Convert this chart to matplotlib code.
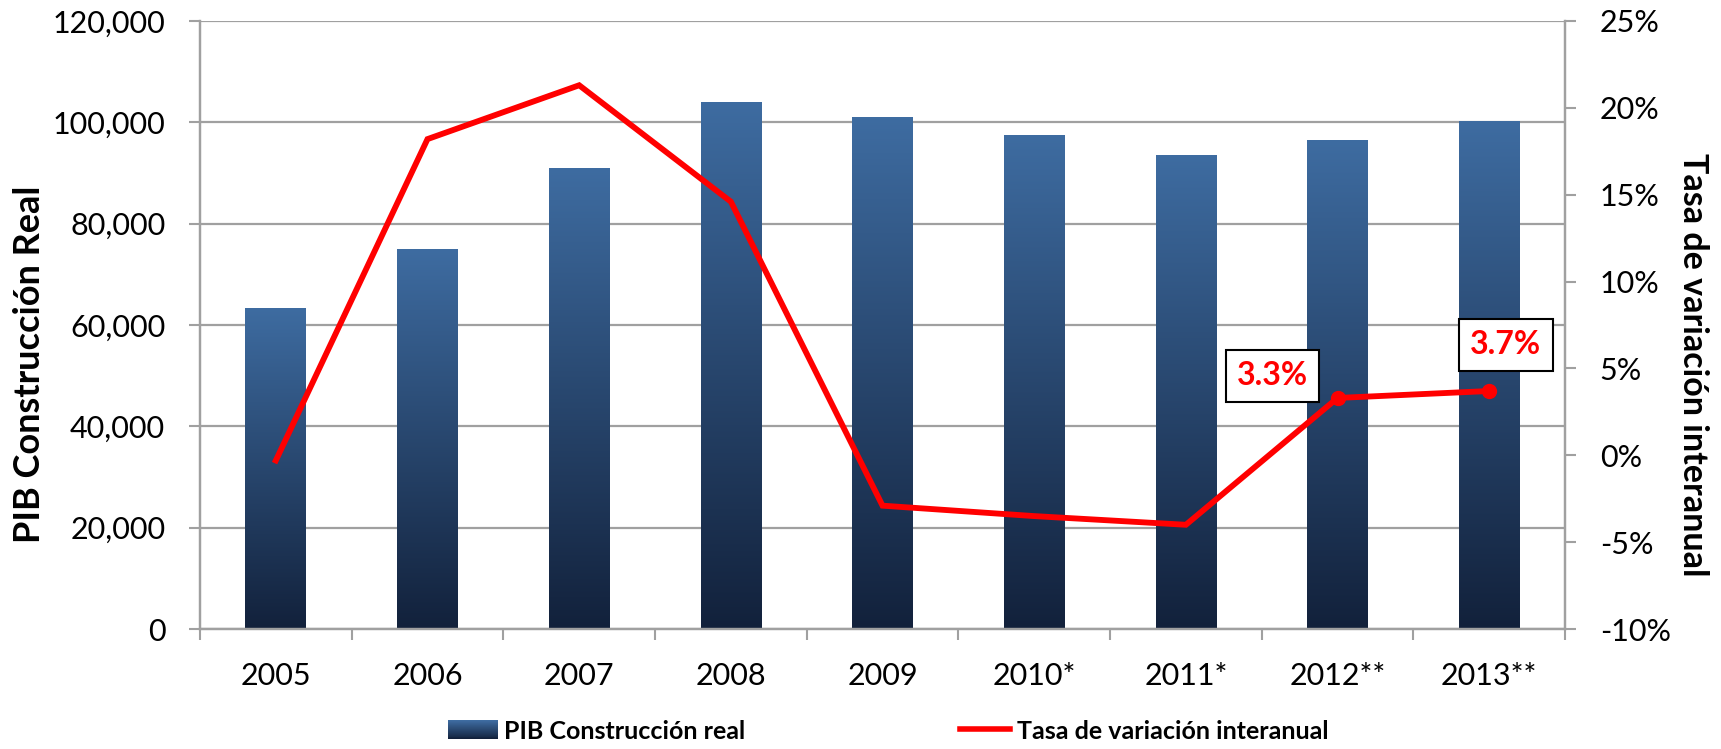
import numpy as np
import matplotlib
matplotlib.use("Agg")
import matplotlib.pyplot as plt
from matplotlib.colors import LinearSegmentedColormap
from matplotlib.patches import Rectangle
from matplotlib.lines import Line2D
from matplotlib.legend_handler import HandlerBase

# datos
years = ["2005", "2006", "2007", "2008", "2009", "2010*", "2011*", "2012**", "2013**"]
pib = [63400, 74900, 90900, 104100, 101000, 97400, 93500, 96600, 100200]
tasa = [-0.3, 18.2, 21.3, 14.6, -2.9, -3.5, -4.0, 3.3, 3.7]
labeled_idx = [7, 8]
labeled_txt = ["3.3%", "3.7%"]
yticks_left = [0, 20000, 40000, 60000, 80000, 100000, 120000]
yticks_right = [-10, -5, 0, 5, 10, 15, 20, 25]

plt.rcParams["font.family"] = ["Lato", "DejaVu Sans"]

top_c = "#3E6CA1"
bot_c = "#12213B"
cmap = LinearSegmentedColormap.from_list("barra", [bot_c, top_c])
grid_c = "#A0A0A0"


class GradientHandler(HandlerBase):
    def create_artists(self, legend, orig_handle, xdescent, ydescent,
                       width, height, fontsize, trans):
        n = 20
        arts = []
        for k in range(n):
            r = Rectangle((-xdescent, -ydescent + height * k / n), width, height / n + 0.3,
                          facecolor=cmap(k / (n - 1)), edgecolor="none", transform=trans)
            arts.append(r)
        return arts


fig = plt.figure(figsize=(17.21, 7.49), dpi=100)
ax = fig.add_axes([0.1162, 0.1602, 0.9094 - 0.1162, 0.972 - 0.1602])
ax2 = ax.twinx()

x = np.arange(len(years))
bars = ax.bar(x, pib, width=0.40, color="none", edgecolor="none", zorder=2)

# degradado vertical en cada barra
grad = np.linspace(0, 1, 256).reshape(-1, 1)
for rect in bars:
    bx, bw, bh = rect.get_x(), rect.get_width(), rect.get_height()
    im = ax.imshow(grad, extent=[bx, bx + bw, 0, bh], origin="lower", aspect="auto",
                   cmap=cmap, zorder=2)
    im.set_clip_path(rect)

ax.set_xlim(-0.5, len(years) - 0.5)
ax.set_ylim(0, 120000)
ax.set_yticks(yticks_left)
ax.set_yticklabels([f"{v:,}" for v in yticks_left])
ax.yaxis.grid(True, color=grid_c, linewidth=1.6)
ax.set_axisbelow(True)

ax.set_xticks(x)
ax.set_xticklabels(years)
ax.set_xticks(np.arange(-0.5, len(years)), minor=True)
ax.tick_params(axis="x", which="major", length=0, pad=24, labelsize=22)
ax.tick_params(axis="x", which="minor", length=8, width=1.5, color=grid_c, direction="out")
ax.tick_params(axis="y", length=8, width=1.5, color=grid_c, pad=17, labelsize=22)

for a in (ax, ax2):
    a.spines["top"].set_visible(False)
    for s in ["left", "bottom", "right"]:
        a.spines[s].set_color(grid_c)
        a.spines[s].set_linewidth(1.6)

fig.text(0.017, 0.513, "PIB Construcción Real", rotation=90, ha="center", va="center",
         fontsize=26, fontweight="bold")
fig.text(0.984, 0.513, "Tasa de variación interanual", rotation=-90, ha="center",
         va="center", fontsize=24.5, fontweight="bold")

ax2.plot(x, tasa, color="#FF0000", linewidth=4.2, zorder=3, solid_joinstyle="miter")
ax2.plot(x[labeled_idx], np.array(tasa)[labeled_idx], "o", color="#FF0000",
         markersize=10, zorder=4)
ax2.set_ylim(-10, 25)
ax2.set_yticks(yticks_right)
ax2.set_yticklabels([f"{v}%" for v in yticks_right])
ax2.tick_params(axis="y", length=8, width=1.5, color=grid_c, pad=17, labelsize=22)

# etiquetas de 2012 y 2013
label_pos = [(6.57, 4.57), (8.11, 6.35)]
for i, txt, pos in zip(labeled_idx, labeled_txt, label_pos):
    ax2.annotate(txt, (x[i], tasa[i]), xytext=pos, textcoords="data",
                 ha="center", va="center", fontsize=23, fontweight="bold", color="#FF0000",
                 bbox=dict(boxstyle="square,pad=0.35", facecolor="white", edgecolor="black",
                           linewidth=1.5), zorder=5)

h_bar = Rectangle((0, 0), 1, 1)
h_line = Line2D([], [], color="#FF0000", linewidth=4)
fig.legend([h_bar, h_line], ["PIB Construcción real", "Tasa de variación interanual"],
           handler_map={Rectangle: GradientHandler()},
           loc="center", bbox_to_anchor=(0.516, 0.024), ncol=2, frameon=False,
           prop={"size": 18, "weight": "bold"}, handlelength=2.0, handleheight=0.8,
           handletextpad=0.25, columnspacing=8.6)

fig.savefig("out.png", dpi=100)
